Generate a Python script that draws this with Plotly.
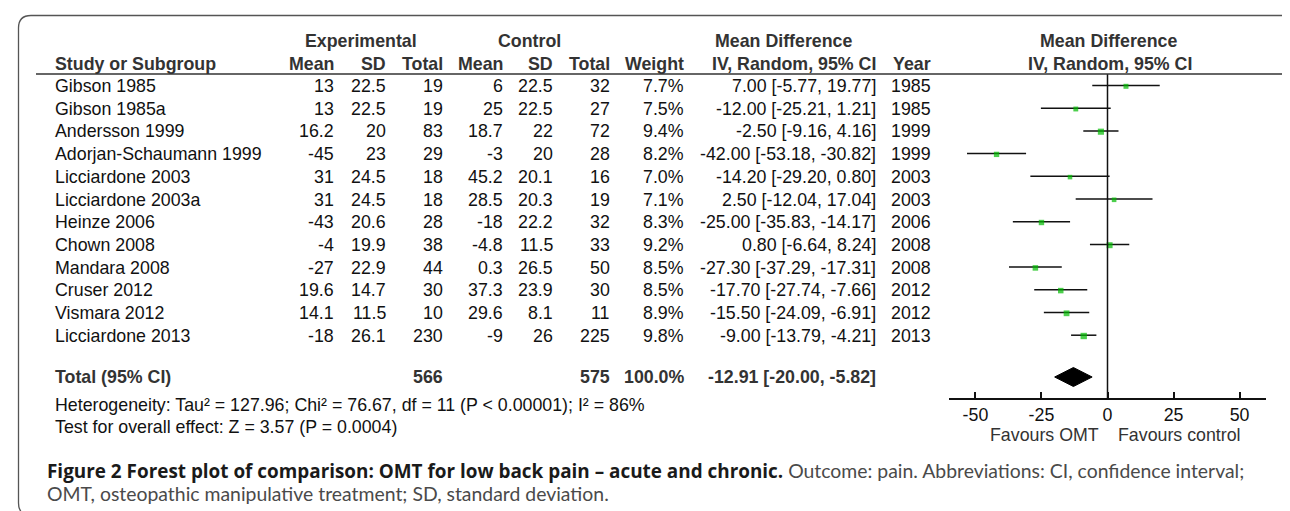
import plotly.graph_objects as go

# ---------------- data ----------------
studies = ["Gibson 1985", "Gibson 1985a", "Andersson 1999", "Adorjan-Schaumann 1999",
           "Licciardone 2003", "Licciardone 2003a", "Heinze 2006", "Chown 2008",
           "Mandara 2008", "Cruser 2012", "Vismara 2012", "Licciardone 2013"]
exp_mean = [13, 13, 16.2, -45, 31, 31, -43, -4, -27, 19.6, 14.1, -18]
exp_sd = [22.5, 22.5, 20, 23, 24.5, 24.5, 20.6, 19.9, 22.9, 14.7, 11.5, 26.1]
exp_n = [19, 19, 83, 29, 18, 18, 28, 38, 44, 30, 10, 230]
ctl_mean = [6, 25, 18.7, -3, 45.2, 28.5, -18, -4.8, 0.3, 37.3, 29.6, -9]
ctl_sd = [22.5, 22.5, 22, 20, 20.1, 20.3, 22.2, 11.5, 26.5, 23.9, 8.1, 26]
ctl_n = [32, 27, 72, 28, 16, 19, 32, 33, 50, 30, 11, 225]
weight = [7.7, 7.5, 9.4, 8.2, 7.0, 7.1, 8.3, 9.2, 8.5, 8.5, 8.9, 9.8]
md = [7.00, -12.00, -2.50, -42.00, -14.20, 2.50, -25.00, 0.80, -27.30, -17.70, -15.50, -9.00]
ci_lo = [-5.77, -25.21, -9.16, -53.18, -29.20, -12.04, -35.83, -6.64, -37.29, -27.74, -24.09, -13.79]
ci_hi = [19.77, 1.21, 4.16, -30.82, 0.80, 17.04, -14.17, 8.24, -17.31, -7.66, -6.91, -4.21]
years = [1985, 1985, 1999, 1999, 2003, 2003, 2006, 2008, 2008, 2012, 2012, 2013]

total_label = "Total (95% CI)"
total_exp_n = 566
total_ctl_n = 575
total_weight = 100.0
total_md = -12.91
total_lo = -20.00
total_hi = -5.82

heterogeneity = "Heterogeneity: Tau² = 127.96; Chi² = 76.67, df = 11 (P < 0.00001); I² = 86%"
overall = "Test for overall effect: Z = 3.57 (P = 0.0004)"

x_ticks = [-50, -25, 0, 25, 50]
favours_left = "Favours OMT"
favours_right = "Favours control"

caption_bold = "Figure 2 Forest plot of comparison: OMT for low back pain – acute and chronic."
caption_rest1 = " Outcome: pain. Abbreviations: CI, confidence interval;"
caption_rest2 = "OMT, osteopathic manipulative treatment; SD, standard deviation."

# ---------------- layout constants (pixels) ----------------
W, H = 1290, 511
ROW0, ROWH = 77.5, 22.7
Y_GROUP, Y_HEAD, Y_LINE = 33, 56, 66
Y_TOTAL = 369
Y_HET, Y_TEST = 397, 419
Y_AXIS = 391
Y_FAV = 427
Y_CAP1, Y_CAP2 = 463, 485

FONT = "Liberation Sans, Arial, sans-serif"
FS = 17.8
BODY = "#111111"
HEAD = "#333333"

col_right = {"em": 328, "esd": 380, "en": 437, "cm": 497, "csd": 547, "cn": 604,
             "w": 678, "ci": 870, "yr": 925}
X_NAME = 45
X_CAP = 37
PLOT_L, PLOT_R = 941, 1258

def fmt(v):
    return f"{v:g}"

fig = go.Figure()

fig.update_layout(
    width=W, height=H, margin=dict(l=0, r=0, t=0, b=0),
    paper_bgcolor="white", plot_bgcolor="white", showlegend=False,
    xaxis=dict(range=[0, W], domain=[0, 1], visible=False, fixedrange=True),
    yaxis=dict(range=[H, 0], domain=[0, 1], visible=False, fixedrange=True),
    xaxis2=dict(domain=[PLOT_L / W, PLOT_R / W], range=[-60, 60], anchor="free",
                position=(H - Y_AXIS) / H, showline=True, linecolor="#111", linewidth=1.5,
                ticks="inside", ticklen=6, tickwidth=1.5, tickcolor="#111",
                tickvals=x_ticks, ticktext=[str(t) for t in x_ticks],
                tickfont=dict(family=FONT, size=FS, color="#111"),
                showgrid=False, zeroline=False, fixedrange=True),
)

rows_y = [ROW0 + i * ROWH for i in range(len(studies))]

# CI lines
xs, ys = [], []
for lo, hi, y in zip(ci_lo, ci_hi, rows_y):
    xs += [lo, hi, None]
    ys += [y, y, None]
fig.add_trace(go.Scatter(x=xs, y=ys, xaxis="x2", yaxis="y", mode="lines",
                         line=dict(color="#111", width=1.5), hoverinfo="skip"))
# squares
fig.add_trace(go.Scatter(x=md, y=[y + 0.8 for y in rows_y], xaxis="x2", yaxis="y", mode="markers",
                         marker=dict(symbol="square", color="#00bb00",
                                     size=[w * 0.65 for w in weight], line=dict(width=0))))
# diamond
dh = 9.5
fig.add_trace(go.Scatter(x=[total_lo, total_md, total_hi, total_md, total_lo],
                         y=[Y_TOTAL, Y_TOTAL - dh, Y_TOTAL, Y_TOTAL + dh, Y_TOTAL],
                         xaxis="x2", yaxis="y", mode="lines", fill="toself",
                         fillcolor="black", line=dict(color="black", width=1)))

# zero line
fig.add_shape(type="line", xref="x2", yref="y", x0=0, x1=0, y0=Y_LINE, y1=Y_AXIS,
              line=dict(color="#111", width=1.5))
# header rule
fig.add_shape(type="line", xref="x", yref="y", x0=28, x1=1275, y0=Y_LINE, y1=Y_LINE,
              line=dict(color="#333", width=1.6))
# frame
fig.add_shape(type="path", xref="x", yref="y",
              path="M 1289,19 Q 1289,7.5 1277,7.5 L 23,7.5 Q 10.5,7.5 10.5,20 L 10.5,495 Q 10.5,507.5 23,507.5",
              line=dict(color="#555", width=1.3))

def txt(x, y, s, anchor="right", bold=False, color=BODY, size=FS, family=FONT):
    fig.add_annotation(x=x, y=y, xref="x", yref="y", text=(f"<b>{s}</b>" if bold else s),
                       showarrow=False, xanchor=anchor, yanchor="middle",
                       font=dict(family=family, size=size, color=color))

TY = 0.5
# group headers
txt(352.5, Y_GROUP, "Experimental", "center", True, HEAD)
txt(521.7, Y_GROUP, "Control", "center", True, HEAD)
txt(775, Y_GROUP, "Mean Difference", "center", True, HEAD)
txt(1100, Y_GROUP, "Mean Difference", "center", True, HEAD)
# sub headers
txt(X_NAME, Y_HEAD, "Study or Subgroup", "left", True, HEAD)
for key, lab in [("em", "Mean"), ("esd", "SD"), ("en", "Total"), ("cm", "Mean"),
                 ("csd", "SD"), ("cn", "Total"), ("w", "Weight"),
                 ("ci", "IV, Random, 95% CI"), ("yr", "Year")]:
    txt(col_right[key], Y_HEAD, lab, "right", True, HEAD)
txt(1102, Y_HEAD, "IV, Random, 95% CI", "center", True, HEAD)

# study rows
for i, y in enumerate(rows_y):
    yy = y + TY
    txt(X_NAME, yy, studies[i], "left")
    txt(col_right["em"], yy, fmt(exp_mean[i]))
    txt(col_right["esd"], yy, fmt(exp_sd[i]))
    txt(col_right["en"], yy, str(exp_n[i]))
    txt(col_right["cm"], yy, fmt(ctl_mean[i]))
    txt(col_right["csd"], yy, fmt(ctl_sd[i]))
    txt(col_right["cn"], yy, str(ctl_n[i]))
    txt(col_right["w"], yy, f"{weight[i]:.1f}%")
    txt(col_right["ci"], yy, f"{md[i]:.2f} [{ci_lo[i]:.2f}, {ci_hi[i]:.2f}]")
    txt(col_right["yr"], yy, str(years[i]))

# total row
txt(X_NAME, Y_TOTAL, total_label, "left", True, HEAD)
txt(col_right["en"], Y_TOTAL, str(total_exp_n), "right", True, HEAD)
txt(col_right["cn"], Y_TOTAL, str(total_ctl_n), "right", True, HEAD)
txt(col_right["w"], Y_TOTAL, f"{total_weight:.1f}%", "right", True, HEAD)
txt(col_right["ci"], Y_TOTAL, f"{total_md:.2f} [{total_lo:.2f}, {total_hi:.2f}]", "right", True, HEAD)

txt(X_NAME, Y_HET, heterogeneity, "left")
txt(X_NAME, Y_TEST, overall, "left")

# favours labels
txt(1093, Y_FAV, favours_left, "right", color=HEAD)
txt(1108, Y_FAV, favours_right, "left", color=HEAD)

# caption
BOLD_STYLE = "font-family:'Open Sans',sans-serif;font-size:18.9px;font-weight:bold;color:#1a1a1a"
REG_STYLE = "font-family:Lato,sans-serif;font-size:19.4px;color:#4a4a4a"
fig.add_annotation(x=X_CAP, y=Y_CAP1, xref="x", yref="y", showarrow=False, xanchor="left", yanchor="middle",
                   text=f"<span style=\"{BOLD_STYLE}\">{caption_bold}</span><span style=\"{REG_STYLE}\">{caption_rest1}</span>",
                   font=dict(family="Lato, sans-serif", size=19.4, color="#4a4a4a"))
fig.add_annotation(x=X_CAP, y=Y_CAP2, xref="x", yref="y", showarrow=False, xanchor="left", yanchor="middle",
                   text=caption_rest2, font=dict(family="Lato, sans-serif", size=19.4, color="#4a4a4a"))

fig.write_html("out.html")
